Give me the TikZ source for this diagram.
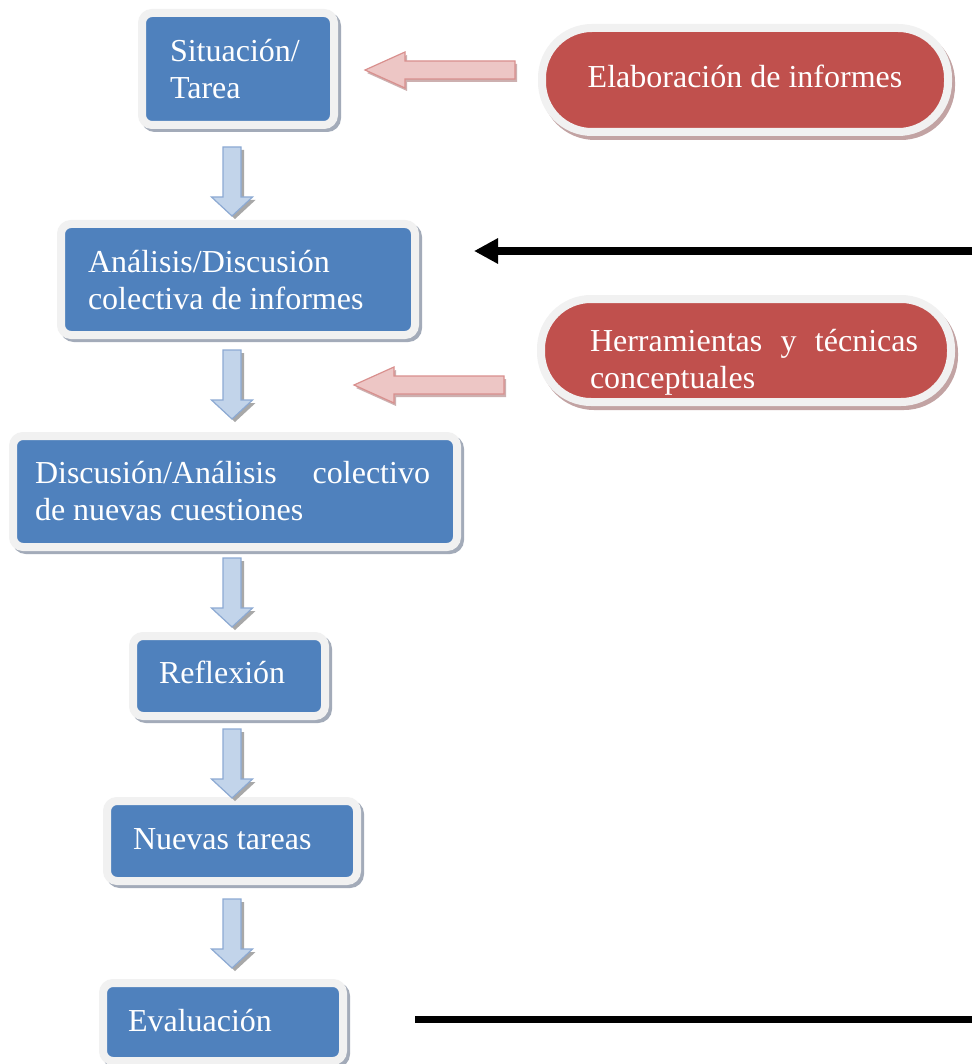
\documentclass[tikz,border=0pt]{standalone}
\usepackage{fontspec}
\setmainfont{Liberation Serif}
\usetikzlibrary{arrows.meta,calc}
\definecolor{boxblue}{HTML}{4F81BD}
\definecolor{pillred}{HTML}{C0504D}
\definecolor{bordergray}{HTML}{F1F1F1}
\definecolor{boxshadow}{HTML}{A3ABB9}
\definecolor{pillshadow}{HTML}{C2A3A3}
\definecolor{parlight}{HTML}{FCF1F1}
\definecolor{pardark}{HTML}{EDC6C5}
\definecolor{parborder}{HTML}{D9908E}
\definecolor{parshadowc}{HTML}{CDB0B0}
\definecolor{barlight}{HTML}{F2F6FB}
\definecolor{bardark}{HTML}{C2D4EA}
\definecolor{barborder}{HTML}{8DAAD3}
\definecolor{barshadowc}{HTML}{A8A8A8}
\begin{document}
\begin{tikzpicture}[x=1pt,y=-1pt,
  basebox/.style={rectangle, draw=bordergray, line width=8pt, text=white,
    font=\fontsize{32}{37}\selectfont, align=left, inner ysep=0pt, outer sep=0pt,
    execute at begin node={\spaceskip=0pt\xspaceskip=0pt\relax}},
  box/.style={basebox, rounded corners=10pt, fill=boxblue,
    preaction={draw=boxshadow, line width=8pt, transform canvas={shift={(3pt,-3pt)}}}},
  pill/.style={basebox, rounded corners=50pt, fill=pillred,
    preaction={draw=pillshadow, line width=8pt, transform canvas={shift={(3pt,-4pt)}}}},
  barfill/.style={draw=barborder, line width=1.2pt, left color=bardark, middle color=barlight, right color=bardark},
  barshadow/.style={fill=barshadowc},
  parfill/.style={draw=parborder, line width=1.2pt, top color=pardark, middle color=parlight, bottom color=pardark},
  parshadow/.style={fill=parshadowc},
  thickline/.style={line width=8pt, black},
  pics/downarr/.style={code={
    \fill[barshadow] (-6,3) -- (12,3) -- (12,53) -- (23.5,53) -- (3,72) -- (-17.5,53) -- (-6,53) -- cycle;
    \draw[barfill] (-9,0) -- (9,0) -- (9,50) -- (20.5,50) -- (0,69) -- (-20.5,50) -- (-9,50) -- cycle;
  }},
  pics/leftarr/.style={code={
    \fill[parshadow] (2,3) -- (42,-15) -- (42,-6) -- (152,-6) -- (152,12) -- (42,12) -- (42,21) -- cycle;
    \draw[parfill] (0,0) -- (40,-18) -- (40,-9) -- (150,-9) -- (150,9) -- (40,9) -- (40,18) -- cycle;
  }}
]
\useasboundingbox (0,0) rectangle (972,1064);
\fill[white] (0,0) rectangle (972,1064);

% blue boxes
\node[box, minimum width=192pt, minimum height=112pt, inner xsep=28pt, text width=136pt] (b1) at (238,69)
  {Situación/\\Tarea};
\node[box, minimum width=354pt, minimum height=111pt, inner xsep=27pt, text width=300pt] (b2) at (238,279.5)
  {\rule{0pt}{24pt}Análisis/Discusión\\colectiva de informes};
\node[box, minimum width=444pt, minimum height=111pt, inner xsep=22pt, text width=400pt] (b3) at (235,491.5)
  {\hbox to 395pt{Discusión/Análisis\hfill colectivo}\\de nuevas cuestiones};
\node[box, minimum width=192pt, minimum height=80pt, inner xsep=26pt, text width=140pt] (b4) at (229,676)
  {Reflexión\rule[-8pt]{0pt}{0pt}};
\node[box, minimum width=250pt, minimum height=80pt, inner xsep=26pt, text width=198pt] (b5) at (232,841)
  {Nuevas tareas\rule[-4pt]{0pt}{0pt}};
\node[box, minimum width=240pt, minimum height=78pt, inner xsep=25pt, text width=190pt] (b6) at (223,1022)
  {Evaluación\rule[-4pt]{0pt}{0pt}};

% red pills
\node[pill, minimum width=406pt, minimum height=104pt, align=center] (p1) at (745,80)
  {Elaboración de informes\rule[-8pt]{0pt}{0pt}};
\node[pill, minimum width=410pt, minimum height=103pt, inner xsep=33pt, text width=344pt] (p2) at (746,350.5)
  {\rule{0pt}{45pt}\hspace*{16pt}\hbox to 328pt{Herramientas\hfill y\hfill técnicas}\\\hspace*{16pt}conceptuales};

% block arrows
\coordinate (d1) at (232,147);
\coordinate (d2) at (232,350);
\coordinate (d3) at (232,558);
\coordinate (d4) at (232,729);
\coordinate (d5) at (232,899);
\pic at (d1) {downarr};
\pic at (d2) {downarr};
\pic at (d3) {downarr};
\pic at (d4) {downarr};
\pic at (d5) {downarr};

\coordinate (l1) at (365,70);
\coordinate (l2) at (354,385);
\pic at (l1) {leftarr};
\pic at (l2) {leftarr};

% black lines
\coordinate (ka) at (972,251);
\coordinate (kb) at (474,251);
\draw[thickline, -{Triangle[length=24pt,width=24pt]}] (ka) -- (kb);
\coordinate (ea) at (415,1019);
\coordinate (eb) at (972,1019);
\draw[thickline, line width=7pt] (ea) -- (eb);
\end{tikzpicture}
\end{document}
